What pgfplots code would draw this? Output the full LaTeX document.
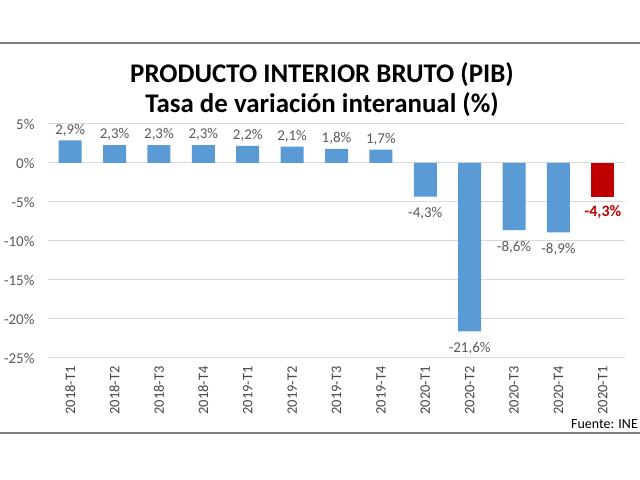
\documentclass[border=0pt]{standalone}
\usepackage{pgfplots}
\pgfplotsset{compat=1.18}
\usepackage{fontspec}
\setmainfont{Carlito}

\definecolor{barblue}{HTML}{5B9BD5}
\definecolor{barred}{HTML}{C00000}
\definecolor{txtgray}{HTML}{595959}
\definecolor{gridgray}{HTML}{D9D9D9}
\definecolor{rulegray}{HTML}{808080}

\begin{document}
\begin{tikzpicture}[x=1bp,y=1bp]
\useasboundingbox[fill=white] (0,0) rectangle (640,480);
\draw[rulegray,line width=1.6bp] (0,437) -- (640,437);
\draw[rulegray,line width=1.6bp] (0,47) -- (640,47);
\node[font=\fontsize{27}{30}\selectfont\bfseries] at (322,405) {PRODUCTO INTERIOR BRUTO (PIB)};
\node[font=\fontsize{27}{30}\selectfont\bfseries] at (322,375) {Tasa de variación interanual (\%)};
\node[anchor=east,font=\fontsize{14}{16}\selectfont,text=black,inner sep=0pt] at (638,56) {Fuente: INE};

\begin{axis}[
  at={(48bp,122bp)}, anchor=south west,
  scale only axis, width=577bp, height=234bp,
  ybar, bar width=23bp, bar shift=0pt,
  xmin=-0.5, xmax=12.5, ymin=-25, ymax=5,
  ytick={-25,-20,...,5},
  yticklabels={-25\%,-20\%,-15\%,-10\%,-5\%,0\%,5\%},
  xtick={0,...,12},
  xticklabels={2018-T1,2018-T2,2018-T3,2018-T4,2019-T1,2019-T2,2019-T3,2019-T4,2020-T1,2020-T2,2020-T3,2020-T4,2020-T1},
  x tick label style={rotate=90,anchor=east,font=\fontsize{14.5}{16}\selectfont,text=txtgray!80!black,xshift=-5bp},
  y tick label style={font=\fontsize{15}{17}\selectfont,text=txtgray,xshift=-10bp},
  axis line style={draw=none},
  major tick length=0pt,
  ymajorgrids, grid style={gridgray,line width=1bp},
  nodes near coords={\pgfmathprintnumber[fixed,fixed zerofill,precision=1,use comma,assume math mode=true]{\pgfplotspointmeta}\%},
  nodes near coords align={vertical},
  every node near coord/.append style={font=\fontsize{15}{17}\selectfont,text=txtgray,inner sep=4bp},
  clip=false,
]
\addplot[fill=barblue,draw=none] coordinates {
  (0,2.9) (1,2.3) (2,2.3) (3,2.3) (4,2.2) (5,2.1) (6,1.8) (7,1.7)
};
\addplot[fill=barblue,draw=none,
  every node near coord/.append style={yshift=-7bp}] coordinates {
  (8,-4.3) (9,-21.6) (10,-8.6) (11,-8.9)
};
\addplot[fill=barred,draw=none,
  every node near coord/.append style={yshift=-5bp,text=barred,font=\fontsize{16}{18}\selectfont\bfseries}]
  coordinates {(12,-4.3)};
\end{axis}
\end{tikzpicture}
\end{document}
